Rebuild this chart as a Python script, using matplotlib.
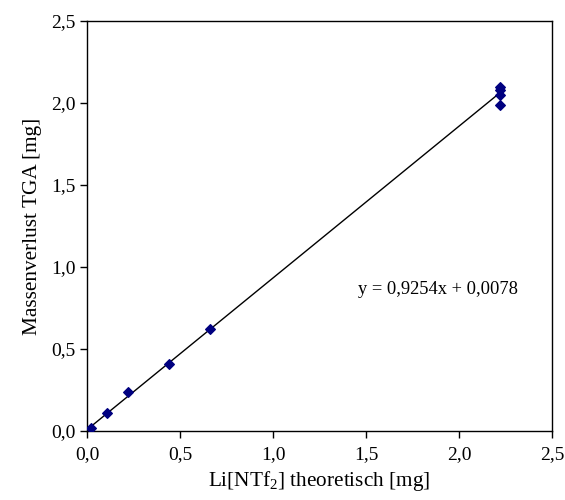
import matplotlib.pyplot as plt
import numpy as np
from matplotlib.ticker import FuncFormatter, MultipleLocator

plt.rcParams['font.family'] = ['Liberation Serif', 'DejaVu Serif']
plt.rcParams['mathtext.fontset'] = 'custom'
plt.rcParams['mathtext.rm'] = 'Liberation Serif'

# Li[NTf2] theoretisch vs. Massenverlust TGA
li_theo = [0.022, 0.11, 0.22, 0.44, 0.66, 2.22, 2.22, 2.22, 2.22]
mass_loss = [0.02, 0.11, 0.24, 0.41, 0.62, 2.10, 2.08, 2.05, 1.99]
slope = 0.9254
intercept = 0.0078

fig = plt.figure(figsize=(5.65, 5.0), dpi=100)
ax = fig.add_axes([0.154, 0.138, 0.823, 0.82])

# trendline over data range
xl = np.array([min(li_theo), max(li_theo)])
ax.plot(xl, slope * xl + intercept, color='black', linewidth=1)
ax.scatter(li_theo, mass_loss, marker='D', s=24, color='#000080', zorder=3)

ax.text(1.456, 0.86, 'y = 0,9254x + 0,0078', fontsize=13.3, va='center')

ax.set_xlim(0, 2.5)
ax.set_ylim(0, 2.5)
ax.xaxis.set_major_locator(MultipleLocator(0.5))
ax.yaxis.set_major_locator(MultipleLocator(0.5))
comma = FuncFormatter(lambda v, p: f'{v:.1f}'.replace('.', ','))
ax.xaxis.set_major_formatter(comma)
ax.yaxis.set_major_formatter(comma)
ax.tick_params(direction='out', length=5, width=1, labelsize=14)
ax.tick_params(axis='x', pad=6)
ax.tick_params(axis='y', pad=3)
for s in ax.spines.values():
    s.set_linewidth(1)

ax.set_xlabel('Li[NTf$_2$] theoretisch [mg]', fontsize=15.3, labelpad=4)
ax.set_ylabel('Massenverlust TGA [mg]', fontsize=15.3, labelpad=7)

fig.savefig('out.png', dpi=100)
